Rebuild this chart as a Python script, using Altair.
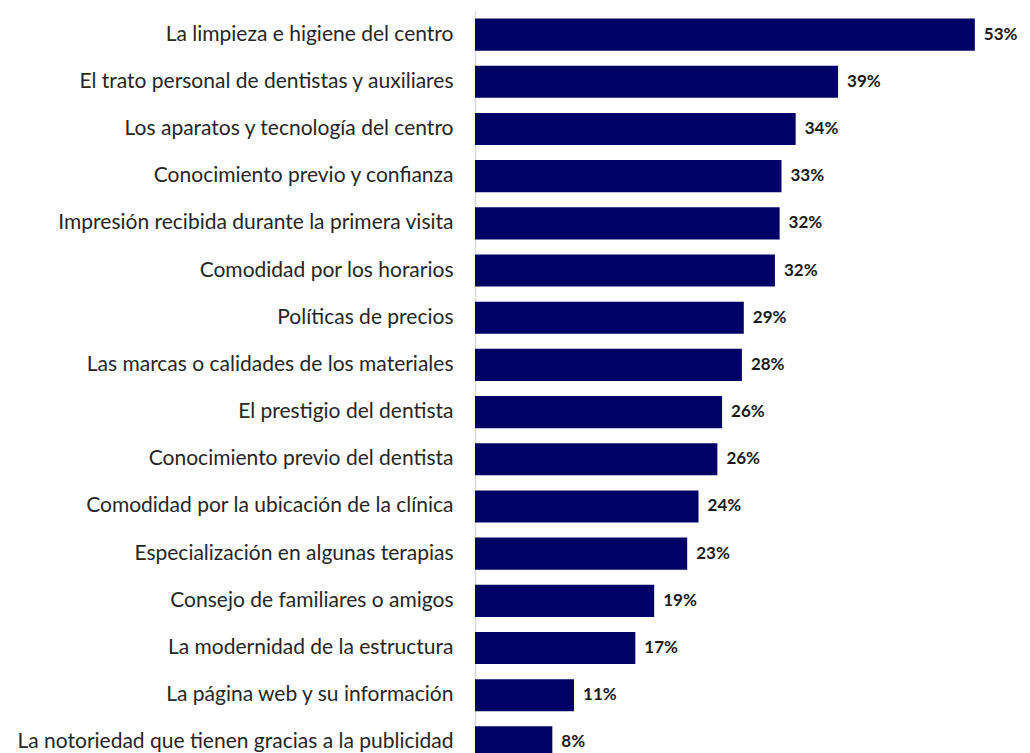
import altair as alt
import pandas as pd

categories = [
    "La limpieza e higiene del centro",
    "El trato personal de dentistas y auxiliares",
    "Los aparatos y tecnología del centro",
    "Conocimiento previo y confianza",
    "Impresión recibida durante la primera visita",
    "Comodidad por los horarios",
    "Políticas de precios",
    "Las marcas o calidades de los materiales",
    "El prestigio del dentista",
    "Conocimiento previo del dentista",
    "Comodidad por la ubicación de la clínica",
    "Especialización en algunas terapias",
    "Consejo de familiares o amigos",
    "La modernidad de la estructura",
    "La página web y su información",
    "La notoriedad que tienen gracias a la publicidad",
]
values = [53.0, 38.5, 34.0, 32.5, 32.3, 31.8, 28.5, 28.3, 26.2, 25.7, 23.7, 22.5, 19.0, 17.0, 10.5, 8.2]
labels = ["53%", "39%", "34%", "33%", "32%", "32%", "29%", "28%", "26%", "26%", "24%", "23%", "19%", "17%", "11%", "8%"]

df = pd.DataFrame({"cat": categories, "val": values, "lab": labels})

FONT = "Lato"

y_enc = alt.Y(
    "cat:N",
    sort=categories,
    title=None,
    scale=alt.Scale(paddingInner=0.32, paddingOuter=0.16),
    axis=alt.Axis(
        ticks=False,
        labelFontSize=21,
        labelFont=FONT,
        labelColor="#262626",
        labelPadding=22,
        labelLimit=0,
        domainColor="#d9d9d9",
        domainWidth=1.5,
        grid=False,
    ),
)
x_enc = alt.X("val:Q", title=None, scale=alt.Scale(domain=[0, 58.0], nice=False), axis=None)

bars = alt.Chart(df).mark_bar(color="#000066").encode(x=x_enc, y=y_enc)
text = alt.Chart(df).mark_text(
    align="left", baseline="middle", dx=9, fontSize=17, fontWeight="bold", font=FONT, color="#1a1a1a"
).encode(x=x_enc, y=alt.Y("cat:N", sort=categories), text="lab:N")

chart = (
    alt.layer(bars, text)
    .properties(
        width=547,
        height=755,
        padding={"left": 467, "top": 3, "right": 0, "bottom": 0},
        autosize=alt.AutoSizeParams(type="none"),
    )
    .configure_view(stroke=None)
)

chart.save("out.html", embed_options={"renderer": "svg", "actions": False})
